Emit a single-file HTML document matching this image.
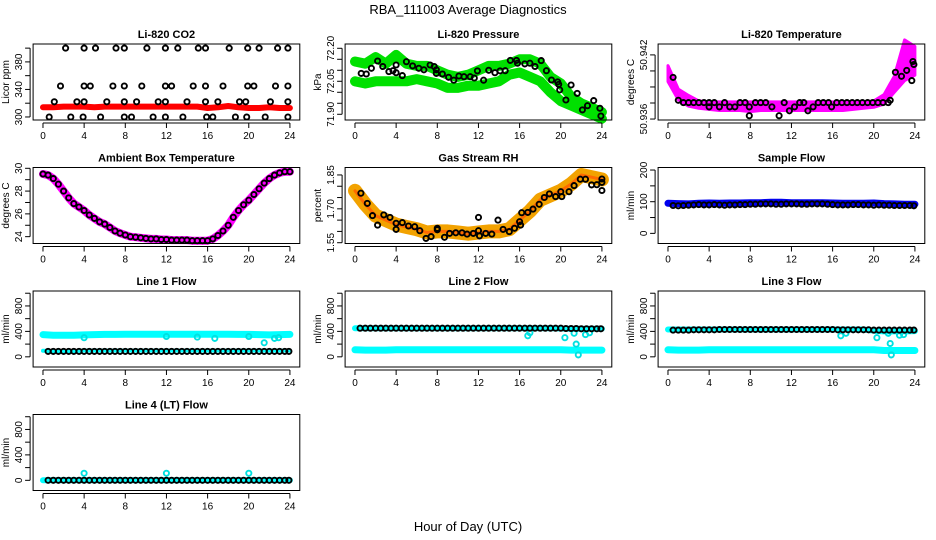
<!DOCTYPE html>
<html><head><meta charset="utf-8"><style>
html,body{margin:0;padding:0;background:#fff;}
svg{display:block;font-family:"Liberation Sans",Arial,sans-serif;}
</style></head><body>
<svg id="chart" width="936" height="540" viewBox="0 0 936 540" xmlns="http://www.w3.org/2000/svg">
<text x="468" y="14" text-anchor="middle" font-size="13">RBA_111003  Average Diagnostics</text>
<text x="468" y="531" text-anchor="middle" font-size="13">Hour of Day (UTC)</text>
</svg>
<script>
// ---------- data ----------
const HOURS = [0,1,2,3,4,5,6,7,8,9,10,11,12,13,14,15,16,17,18,19,20,21,22,23,24];
const HALF_HOURS = [0,0.5,1,1.5,2,2.5,3,3.5,4,4.5,5,5.5,6,6.5,7,7.5,8,8.5,9,9.5,10,10.5,11,11.5,12,12.5,13,13.5,14,14.5,15,15.5,16,16.5,17,17.5,18,18.5,19,19.5,20,20.5,21,21.5,22,22.5,23,23.5,24];
const FLOW_BX = [0.5,1,1.5,2,2.5,3,3.5,4,4.5,5,5.5,6,6.5,7,7.5,8,8.5,9,9.5,10,10.5,11,11.5,12,12.5,13,13.5,14,14.5,15,15.5,16,16.5,17,17.5,18,18.5,19,19.5,20,20.5,21,21.5,22,22.5,23,23.5,23.9];

// CO2
const CO2_RED = [314,314,315,315,315,314,315,315,315,315,315,315,315,315,315,315,313,314,316,314,313,313,314,313,313];
const CO2_BX = [2.2,4,5.1,7.1,7.9,10.1,11.9,13.1,15.1,15.8,18.1,19.9,21,22.8,23.8, 1.7,4,4.6,6.8,7.9,9.6,11.9,12.5,14.6,15.8,17.5,19.9,20.5,22.6,23.8, 1.1,3.3,4,6.2,7.9,9.1,11.2,11.9,14,15.8,17,19.1,19.7,22.1,23.8, 0.6,2.7,3.9,5.6,7.9,8.6,10.7,11.9,13.6,15.9,16.5,18.7,19.8,21.6,23.8];
const CO2_BY = [400,400,400,400,400,400,400,400,400,400,400,400,400,400,400, 345,345,345,345,345,345,345,345,345,345,345,345,345,345,345, 322,322,322,322,322,322,322,322,322,322,322,322,322,322,322, 300,300,300,300,300,300,300,300,300,300,300,300,300,300,300];

// Pressure
const P_UP = [72.14,72.13,72.16,72.13,72.17,72.13,72.12,72.12,72.10,72.08,72.07,72.08,72.10,72.12,72.12,72.13,72.15,72.15,72.13,72.07,72.04,71.98,71.95,71.93,71.91];
const P_LO = [72.05,72.04,72.05,72.05,72.05,72.05,72.06,72.05,72.04,72.02,72.02,72.03,72.03,72.04,72.05,72.08,72.09,72.07,72.05,72.00,71.96,71.94,71.92,71.90,71.88];
const P_BX = [0.6,1.1,1.6,2.2,2.7,3.3,3.7,4,4,4.6,5,5.6,6.2,6.7,7.3,7.7,7.9,7.9,8.5,9.1,9.6,10.1,10.6,11.2,11.6,11.9,12.5,13,13.6,14.1,14.6,15.1,15.7,15.8,16.5,17,17.5,18.1,18.6,19.1,19.7,19.8,19.9,21,20.5,21.6,22.1,22.6,23.2,23.8,23.9];
const P_BY = [72.086,72.083,72.109,72.142,72.117,72.094,72.098,72.124,72.089,72.076,72.139,72.120,72.109,72.102,72.124,72.117,72.102,72.086,72.083,72.068,72.055,72.074,72.071,72.071,72.065,72.097,72.055,72.100,72.089,72.097,72.098,72.145,72.145,72.132,72.129,72.132,72.117,72.144,72.098,72.056,72.047,72.036,72.011,72.033,71.965,71.995,71.920,71.939,71.962,71.927,71.892];

// Li-820 temperature
const T_UP = [50.9410,50.9388,50.9382,50.9377,50.9376,50.9376,50.9376,50.9376,50.9376,50.9376,50.9376,50.9376,50.9376,50.9376,50.9376,50.9376,50.9376,50.9376,50.9376,50.9376,50.9377,50.9383,50.9400,50.9434,50.9428];
const T_LO = [50.9395,50.9378,50.9372,50.9370,50.9369,50.9368,50.9368,50.9368,50.9367,50.9368,50.9368,50.9368,50.9368,50.9368,50.9368,50.9368,50.9368,50.9368,50.9369,50.9370,50.9371,50.9374,50.9385,50.9396,50.9401];
const T_BX = [0.5,1,1.5,2,2.5,3,3.5,4,4,4.5,5,5.5,6,6.5,7,7.5,7.9,7.9,8.5,9,9.5,10.1,10.8,11.3,11.8,12.3,12.8,13.2,13.6,14.1,14.6,15.1,15.6,15.9,16.4,16.9,17.4,17.9,18.4,18.9,19.4,19.9,20.4,20.9,21.4,21.6,22.1,22.7,23.2,23.7,23.8,23.9];
const T_BY = [50.9399,50.93775,50.93754,50.93754,50.93754,50.93754,50.93754,50.93754,50.93714,50.93754,50.93714,50.93754,50.93714,50.93714,50.93754,50.93754,50.93714,50.93631,50.93754,50.93754,50.93754,50.93714,50.93631,50.93754,50.93677,50.93714,50.93754,50.93754,50.93677,50.93714,50.93754,50.93754,50.93754,50.93714,50.93754,50.93754,50.93754,50.93754,50.93754,50.93754,50.93754,50.93754,50.93754,50.93754,50.93754,50.93775,50.94037,50.9400,50.94055,50.9396,50.94138,50.9411];

// Ambient box temperature
const AMB = [29.5,29.4,29.1,28.6,28.0,27.4,26.9,26.6,26.3,25.9,25.6,25.3,25.1,24.8,24.5,24.3,24.15,24.0,23.95,23.9,23.85,23.8,23.8,23.75,23.75,23.7,23.7,23.7,23.7,23.65,23.65,23.65,23.65,23.8,24.1,24.5,25.0,25.7,26.3,26.8,27.2,27.7,28.2,28.7,29.1,29.4,29.6,29.7,29.7];

// Gas stream RH
const RH_BAND = [1.78,1.72,1.67,1.65,1.63,1.62,1.61,1.595,1.60,1.60,1.595,1.59,1.595,1.60,1.60,1.61,1.65,1.69,1.74,1.76,1.78,1.81,1.85,1.84,1.83];
const RH_BX = [0.58,1.2,1.7,2.2,2.8,3.4,4,4,4.6,5.2,5.8,6.3,6.9,7.4,8,8,8.7,9.2,9.8,10.4,10.9,11.5,12,12,12.1,12.7,13.3,13.9,14.4,15,15.5,16,16.1,16.2,16.8,17.3,17.9,18.4,18.9,19.5,20,20.1,20.8,21.3,21.9,22.4,23,23.5,24,24,24];
const RH_BY = [1.769,1.724,1.670,1.628,1.673,1.662,1.636,1.609,1.639,1.624,1.621,1.603,1.569,1.577,1.614,1.607,1.574,1.591,1.594,1.594,1.588,1.591,1.662,1.603,1.580,1.591,1.588,1.650,1.609,1.599,1.614,1.643,1.628,1.683,1.684,1.699,1.720,1.750,1.766,1.754,1.776,1.754,1.776,1.803,1.831,1.831,1.806,1.807,1.781,1.817,1.832];

// Sample flow
const SF_BLUE = [95,94,93,95,96,95,96,96,97,97,98,98,97,97,97,97,96,95,95,95,96,94,93,92,92];
const SF_BLACK = [88,87,88,89,90,91,90,90,91,90,89,90,90,91,91,92,92,93,93,93,92,92,93,93,93,92,92,93,93,93,92,91,90,90,90,91,91,90,90,89,90,89,89,88,88,88,88,87];

// Line 1 flow
const L1_CYAN_HI = [350,340,340,340,345,350,352,352,355,355,355,355,355,355,355,355,355,355,355,352,352,350,345,350,352];
const L1_CYAN_LO = [95,90,90,90,100,100,100,100,100,100,100,100,100,100,100,100,100,100,100,100,100,100,100,100,100];
const L1_BLACK = [85,85,85,85,85,85,85,85,86,86,86,86,86,86,86,86,86,86,86,86,86,86,86,86,86,86,86,86,86,86,86,86,86,86,86,86,86,86,86,86,86,86,86,86,86,86,86,86];
const L1_OUT_X = [4,12,15,16.7,20,21.5,22.5,22.9];
const L1_OUT_Y = [300,320,310,290,320,220,290,300];

// Line 2 flow
const L2_CYAN_HI = [450,450,450,450,450,450,450,450,450,450,450,450,450,450,450,450,450,450,450,450,445,440,440,440,440];
const L2_CYAN_LO = [110,105,105,105,110,110,110,110,110,110,110,110,110,110,110,110,110,110,110,110,110,105,105,105,105];
const L2_BLACK = [450,450,450,450,450,450,450,450,450,450,450,450,450,450,450,450,450,450,450,450,450,450,450,450,450,450,450,450,450,450,450,450,450,450,450,450,450,450,450,450,445,445,445,440,440,440,440,440];
const L2_OUT_X = [16.8,17,20.4,21.3,21.5,21.7,22.4,22.8];
const L2_OUT_Y = [330,380,300,370,200,30,350,380];

// Line 3 flow
const L3_CYAN_HI = [430,430,430,430,430,430,430,430,430,430,430,430,430,430,430,430,430,430,430,430,410,400,400,400,405];
const L3_CYAN_LO = [110,105,105,105,110,110,110,110,110,110,110,110,110,110,110,110,110,110,110,110,110,100,100,100,100];
const L3_BLACK = [420,420,420,420,425,425,425,425,425,430,430,430,430,430,430,430,430,430,430,430,430,430,430,430,430,430,430,430,430,430,430,430,425,425,425,425,425,425,425,420,420,420,420,420,420,420,420,420];
const L3_OUT_X = [16.8,17.3,20.3,21.4,21.6,21.7,22.5,22.9];
const L3_OUT_Y = [330,370,300,370,210,30,340,350];

// Line 4 flow
const L4_CYAN = [0,0,0,0,0,0,0,0,0,0,0,0,0,0,0,0,0,0,0,0,0,0,0,0,0];
const L4_BLACK = [0,0,0,0,0,0,0,0,0,0,0,0,0,0,0,0,0,0,0,0,0,0,0,0,0,0,0,0,0,0,0,0,0,0,0,0,0,0,0,0,0,0,0,0,0,0,0,0];
const L4_OUT_X = [4,12,20];
const L4_OUT_Y = [110,110,110];

// ---------- drawing ----------
const NS = 'http://www.w3.org/2000/svg';
const svg = document.getElementById('chart');
const COL_LEFT = [33.1, 345.1, 658.1];
const ROW_TOP = [44, 167.5, 291, 414.5];
const BW = 266.7, BH = 76;
const XMIN = -0.96, XMAX = 24.96;

function mk(tag, parent) { const e = document.createElementNS(NS, tag); parent.appendChild(e); return e; }

function makePanel(cfg) {
  const g = mk('g', svg);
  
  
  const L = COL_LEFT[cfg.col], T = ROW_TOP[cfg.row];
  const sx = v => L + (v - XMIN) / (XMAX - XMIN) * BW;
  const sy = v => T + BH - (v - cfg.ydom[0]) / (cfg.ydom[1] - cfg.ydom[0]) * BH;
  const t = mk('text', g);
  
  
  t.setAttribute('x', L + BW / 2); t.setAttribute('y', T - 6);
  t.setAttribute('text-anchor', 'middle'); t.setAttribute('font-size', '11'); t.setAttribute('font-weight', 'bold');
  t.textContent = cfg.title;
  const dg = mk('g', g);
  
  
  const r = mk('rect', g);
  
  
  r.setAttribute('x', L); r.setAttribute('y', T); r.setAttribute('width', BW); r.setAttribute('height', BH);
  r.setAttribute('fill', 'none'); r.setAttribute('stroke', '#000'); r.setAttribute('stroke-width', '1');
  const xa = mk('g', g);
  
  
  const xl = mk('line', xa);
  xl.setAttribute('x1', sx(0)); xl.setAttribute('x2', sx(24)); xl.setAttribute('y1', T + BH + 3); xl.setAttribute('y2', T + BH + 3); xl.setAttribute('stroke', '#000');
  for (let h = 0; h <= 24; h += 4) {
    const tk = mk('line', xa);
    tk.setAttribute('x1', sx(h)); tk.setAttribute('x2', sx(h)); tk.setAttribute('y1', T + BH + 3); tk.setAttribute('y2', T + BH + 8); tk.setAttribute('stroke', '#000');
    const lb = mk('text', xa);
    
    
    lb.setAttribute('x', sx(h)); lb.setAttribute('y', T + BH + 19); lb.setAttribute('text-anchor', 'middle'); lb.setAttribute('font-size', '10');
    lb.textContent = h;
  }
  const ya = mk('g', g);
  
  
  const yl = mk('line', ya);
  const yt = cfg.yticks;
  yl.setAttribute('x1', L - 3); yl.setAttribute('x2', L - 3); yl.setAttribute('y1', sy(yt[0])); yl.setAttribute('y2', sy(yt[yt.length - 1])); yl.setAttribute('stroke', '#000');
  yt.forEach(v => {
    const tk = mk('line', ya);
    tk.setAttribute('x1', L - 8); tk.setAttribute('x2', L - 3); tk.setAttribute('y1', sy(v)); tk.setAttribute('y2', sy(v)); tk.setAttribute('stroke', '#000');
  });
  cfg.ylabels.forEach(s => {
    const lb = mk('text', ya);
    
    
    const y = sy(parseFloat(s)), x = L - 11;
    lb.setAttribute('transform', 'translate(' + x + ',' + y + ') rotate(-90)');
    lb.setAttribute('text-anchor', 'middle'); lb.setAttribute('font-size', '10');
    lb.textContent = s;
  });
  const yt2 = mk('text', ya);
  
  
  yt2.setAttribute('transform', 'translate(' + (L - 24) + ',' + (T + BH / 2) + ') rotate(-90)');
  yt2.setAttribute('text-anchor', 'middle'); yt2.setAttribute('font-size', '10');
  yt2.textContent = cfg.ylab;
  return { sx, sy, g: dg };
}

function band(P, xs, ys, color, width, name) {
  const pl = mk('polyline', P.g);
  
  
  const n = Math.min(xs.length, ys.length);
  let pts = [];
  for (let i = 0; i < n; i++) pts.push(P.sx(xs[i]).toFixed(1) + ',' + P.sy(ys[i]).toFixed(1));
  pl.setAttribute('points', pts.join(' '));
  pl.setAttribute('fill', 'none'); pl.setAttribute('stroke', color); pl.setAttribute('stroke-width', width);
  pl.setAttribute('stroke-linejoin', 'round'); pl.setAttribute('stroke-linecap', 'round');
}
function area(P, xs, hi, lo, color, name) {
  const pg = mk('polygon', P.g);
  
  
  let pts = [];
  for (let i = 0; i < xs.length; i++) pts.push(P.sx(xs[i]).toFixed(1) + ',' + P.sy(hi[i]).toFixed(1));
  for (let i = xs.length - 1; i >= 0; i--) pts.push(P.sx(xs[i]).toFixed(1) + ',' + P.sy(lo[i]).toFixed(1));
  pg.setAttribute('points', pts.join(' '));
  pg.setAttribute('fill', color); pg.setAttribute('stroke', color); pg.setAttribute('stroke-width', '3'); pg.setAttribute('stroke-linejoin', 'round');
}
function points(P, xs, ys, color, name, sw) {
  const n = Math.min(xs.length, ys.length);
  for (let i = 0; i < n; i++) {
    const c = mk('circle', P.g);
    
    
    c.setAttribute('cx', P.sx(xs[i]).toFixed(1)); c.setAttribute('cy', P.sy(ys[i]).toFixed(1)); c.setAttribute('r', '2.6');
    c.setAttribute('fill', 'none'); c.setAttribute('stroke', color); c.setAttribute('stroke-width', sw || 1.9);
  }
}
function range(a, b, s) { const o = []; for (let v = a; v <= b + 1e-9; v += s) o.push(+v.toFixed(6)); return o; }

let P = makePanel({name:'co2', col:0, row:0, title:'Li-820 CO2', ydom:[295.6,406], yticks:range(300,400,20), ylabels:['300','340','380'], ylab:'Licor ppm'});
band(P, HOURS, CO2_RED, '#ff0000', 6, 'co2-red-series');
points(P, CO2_BX, CO2_BY, '#000', 'co2-point');

P = makePanel({name:'pressure', col:1, row:0, title:'Li-820 Pressure', ydom:[71.874,72.2195], yticks:range(71.9,72.2,0.05), ylabels:['71.90','72.05','72.20'], ylab:'kPa'});
band(P, HOURS, P_UP, '#00e000', 10, 'pressure-green-upper');
band(P, HOURS, P_LO, '#00e000', 10, 'pressure-green-lower');
points(P, P_BX, P_BY, '#000', 'pressure-point');

P = makePanel({name:'licor-temp', col:2, row:0, title:'Li-820 Temperature', ydom:[50.93591,50.94302], yticks:range(50.936,50.942,0.0015), ylabels:['50.936','50.942'], ylab:'degrees C'});
area(P, HOURS, T_UP, T_LO, '#ff00ff', 'licor-temp-magenta-series');
points(P, T_BX, T_BY, '#000', 'licor-temp-point');

P = makePanel({name:'ambient-temp', col:0, row:1, title:'Ambient Box Temperature', ydom:[23.40,30.07], yticks:range(24,30,1), ylabels:['24','26','28','30'], ylab:'degrees C'});
band(P, HALF_HOURS, AMB, '#ff00ff', 8, 'ambient-magenta-series');
points(P, HALF_HOURS, AMB, '#000', 'ambient-point');

P = makePanel({name:'rh', col:1, row:1, title:'Gas Stream RH', ydom:[1.5465,1.883], yticks:range(1.55,1.85,0.05), ylabels:['1.55','1.70','1.85'], ylab:'percent'});
band(P, HOURS, RH_BAND, '#f2a200', 14, 'rh-orange-series');
band(P, HOURS, RH_BAND, '#ff6a00', 3, 'rh-red-core');
points(P, RH_BX, RH_BY, '#000', 'rh-point');

P = makePanel({name:'sample-flow', col:2, row:1, title:'Sample Flow', ydom:[-32,208], yticks:range(0,200,50), ylabels:['0','100','200'], ylab:'ml/min'});
band(P, HOURS, SF_BLUE, '#0000ee', 7, 'sample-flow-blue-series');
points(P, FLOW_BX, SF_BLACK, '#000', 'sample-flow-point');

const FLOW_TICKS = range(0,1000,200), FLOW_LABELS = ['0','400','800'], FLOW_DOM = [-160,1035];
P = makePanel({name:'line1-flow', col:0, row:2, title:'Line 1 Flow', ydom:FLOW_DOM, yticks:FLOW_TICKS, ylabels:FLOW_LABELS, ylab:'ml/min'});
band(P, HOURS, L1_CYAN_HI, '#00ffff', 7, 'line1-cyan-upper');
band(P, HOURS, L1_CYAN_LO, '#00ffff', 4, 'line1-cyan-lower');
points(P, L1_OUT_X, L1_OUT_Y, '#00e0e0', 'line1-cyan-outlier');
points(P, FLOW_BX, L1_BLACK, '#000', 'line1-point');

P = makePanel({name:'line2-flow', col:1, row:2, title:'Line 2 Flow', ydom:FLOW_DOM, yticks:FLOW_TICKS, ylabels:FLOW_LABELS, ylab:'ml/min'});
band(P, HOURS, L2_CYAN_HI, '#00ffff', 6, 'line2-cyan-upper');
band(P, HOURS, L2_CYAN_LO, '#00ffff', 7, 'line2-cyan-lower');
points(P, L2_OUT_X, L2_OUT_Y, '#00e0e0', 'line2-cyan-outlier');
points(P, FLOW_BX, L2_BLACK, '#000', 'line2-point');

P = makePanel({name:'line3-flow', col:2, row:2, title:'Line 3 Flow', ydom:FLOW_DOM, yticks:FLOW_TICKS, ylabels:FLOW_LABELS, ylab:'ml/min'});
band(P, HOURS, L3_CYAN_HI, '#00ffff', 6, 'line3-cyan-upper');
band(P, HOURS, L3_CYAN_LO, '#00ffff', 7, 'line3-cyan-lower');
points(P, L3_OUT_X, L3_OUT_Y, '#00e0e0', 'line3-cyan-outlier');
points(P, FLOW_BX, L3_BLACK, '#000', 'line3-point');

P = makePanel({name:'line4-flow', col:0, row:3, title:'Line 4 (LT) Flow', ydom:FLOW_DOM, yticks:FLOW_TICKS, ylabels:FLOW_LABELS, ylab:'ml/min'});
band(P, HOURS, L4_CYAN, '#00ffff', 6, 'line4-cyan-series');
points(P, L4_OUT_X, L4_OUT_Y, '#00e0e0', 'line4-cyan-outlier');
points(P, FLOW_BX, L4_BLACK, '#000', 'line4-point');
</script>
</body></html>
